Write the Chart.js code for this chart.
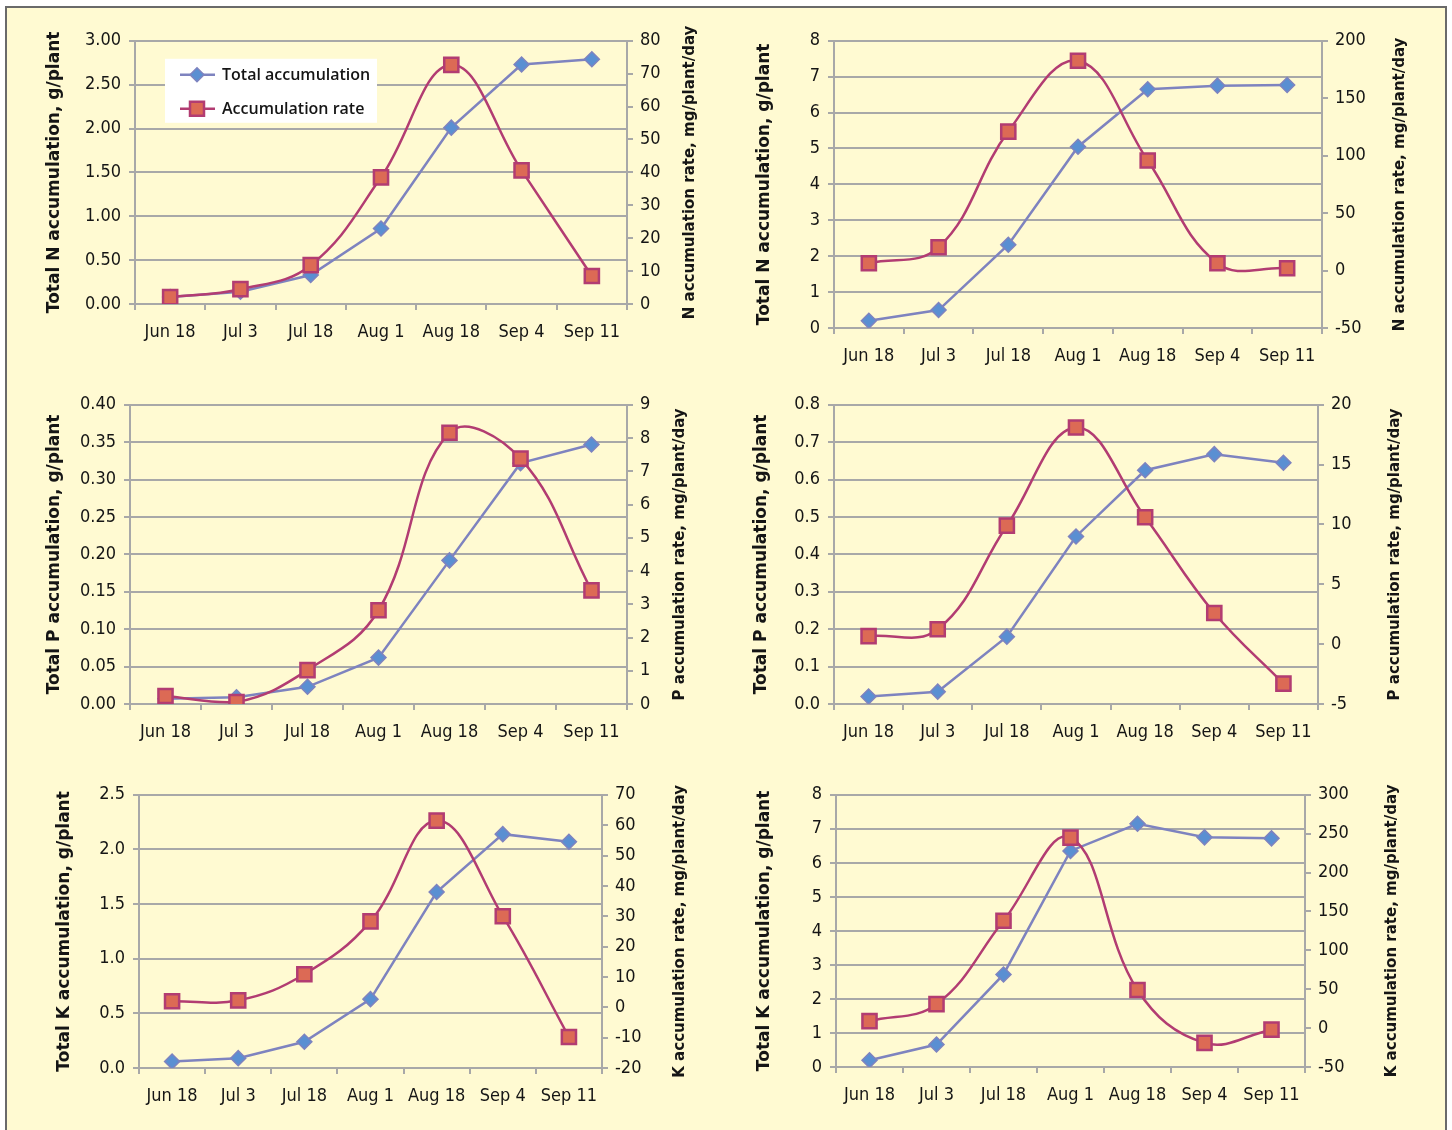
<!DOCTYPE html>
<html>
<head>
<meta charset="utf-8">
<script src="https://cdn.jsdelivr.net/npm/chart.js@4.4.1/dist/chart.umd.min.js"></script>
<style>
  body { margin: 0; background: #fff; width: 1452px; height: 1130px; overflow: hidden; position: relative; }
  .frame { position: absolute; left: 5px; top: 6px; width: 1438px; height: 1140px;
           background: #FFFAD2; border: 2px solid #6a6a6a; }
  .box { position: absolute; }
</style>
</head>
<body>
<div class="frame"></div>
<div class="box" style="left:20px;top:22px;width:695px;height:348px"><canvas id="c1"></canvas></div>
<div class="box" style="left:730px;top:22px;width:710px;height:348px"><canvas id="c2"></canvas></div>
<div class="box" style="left:20px;top:386px;width:695px;height:374px"><canvas id="c3"></canvas></div>
<div class="box" style="left:730px;top:386px;width:710px;height:374px"><canvas id="c4"></canvas></div>
<div class="box" style="left:20px;top:776px;width:695px;height:350px"><canvas id="c5"></canvas></div>
<div class="box" style="left:730px;top:776px;width:710px;height:350px"><canvas id="c6"></canvas></div>
<script>
// sampling dates
const categories = ['Jun 18', 'Jul 3', 'Jul 18', 'Aug 1', 'Aug 18', 'Sep 4', 'Sep 11'];

// nitrogen (g/plant, mg/plant/day)
const nTotalA = [0.08, 0.14, 0.33, 0.86, 2.01, 2.73, 2.79];
const nRateA = [2.1, 4.5, 11.8, 38.5, 72.7, 40.6, 8.5];
const nTotalB = [0.2, 0.5, 2.32, 5.05, 6.65, 6.75, 6.77];
const nRateB = [6.4, 20.3, 121, 182.6, 95.8, 6.4, 2];

// phosphorus
const pTotalA = [0.007, 0.009, 0.023, 0.062, 0.192, 0.322, 0.347];
const pRateA = [0.24, 0.06, 1.02, 2.82, 8.16, 7.38, 3.42];
const pTotalB = [0.02, 0.033, 0.18, 0.448, 0.625, 0.668, 0.645];
const pRateB = [0.67, 1.25, 9.9, 18.1, 10.6, 2.6, -3.3];

// potassium
const kTotalA = [0.06, 0.09, 0.24, 0.63, 1.61, 2.14, 2.07];
const kRateA = [2.0, 2.3, 10.9, 28.3, 61.5, 30, -9.8];
const kTotalB = [0.2, 0.66, 2.72, 6.35, 7.15, 6.75, 6.72];
const kRateB = [9, 30.8, 138, 245, 49, -19, -2];

// axis ranges [min, max, step]
const nLeftA = [0, 3, 0.5], nRightA = [0, 80, 10];
const nLeftB = [0, 8, 1], nRightB = [-50, 200, 50];
const pLeftA = [0, 0.4, 0.05], pRightA = [0, 9, 1];
const pLeftB = [0, 0.8, 0.1], pRightB = [-5, 20, 5];
const kLeftA = [0, 2.5, 0.5], kRightA = [-20, 70, 10];
const kLeftB = [0, 8, 1], kRightB = [-50, 300, 50];

const BLUE_LINE = '#7E83BF';
const BLUE_FILL = '#5A8FD2';
const RED_LINE = '#B23C72';
const RED_FILL = '#DC6A55';
const GRID = '#A8A8A8';
const TEXT = '#151515';
const tickFont = { family: "'Liberation Sans Narrow', 'DejaVu Sans Condensed', 'Arial Narrow', sans-serif", size: 18 };

// both axis titles read bottom-to-top, so they are drawn here
const axisTitles = {
    id: 'axisTitles',
    afterDraw(chart, args, opts) {
        const { ctx, chartArea } = chart;
        const midY = (chartArea.top + chartArea.bottom) / 2;
        const items = [
            [opts.left, chartArea.left - opts.leftGap, 'bold 17px "DejaVu Sans", sans-serif'],
            [opts.right, chartArea.right + opts.rightGap, 'bold 15px "DejaVu Sans", sans-serif'],
        ];
        ctx.save();
        ctx.fillStyle = TEXT;
        ctx.textAlign = 'center';
        ctx.textBaseline = 'middle';
        items.forEach(([text, x, font]) => {
            ctx.save();
            ctx.translate(x, midY);
            ctx.rotate(-Math.PI / 2);
            ctx.font = font;
            ctx.fillText(text, 0, 0);
            ctx.restore();
        });
        ctx.restore();
    },
};

// Excel-style legend sitting inside the plot (first chart only)
const insideLegend = {
    id: 'insideLegend',
    beforeDatasetsDraw(chart, args, opts) {
        if (!opts.show) return;
        const { ctx, chartArea } = chart;
        const x = chartArea.left + 30;
        const y = chartArea.top + 18;
        ctx.save();
        ctx.fillStyle = '#fff';
        ctx.fillRect(x, y, 212, 64);
        chart.data.datasets.forEach((ds, i) => {
            const cy = y + 16 + i * 34;
            const mx = x + 32;
            ctx.strokeStyle = ds.borderColor;
            ctx.lineWidth = ds.borderWidth;
            ctx.beginPath();
            ctx.moveTo(x + 15, cy);
            ctx.lineTo(x + 50, cy);
            ctx.stroke();
            ctx.fillStyle = ds.pointBackgroundColor;
            ctx.strokeStyle = ds.pointBorderColor;
            ctx.lineWidth = ds.pointBorderWidth;
            ctx.beginPath();
            if (ds.pointStyle === 'rectRot') {
                ctx.moveTo(mx - 7, cy);
                ctx.lineTo(mx, cy - 7);
                ctx.lineTo(mx + 7, cy);
                ctx.lineTo(mx, cy + 7);
                ctx.closePath();
            } else {
                ctx.rect(mx - 7, cy - 7, 14, 14);
            }
            ctx.fill();
            ctx.stroke();
            ctx.fillStyle = TEXT;
            ctx.font = '600 16px "Open Sans", sans-serif';
            ctx.textBaseline = 'middle';
            ctx.fillText(ds.label, x + 57, cy + 1);
        });
        ctx.restore();
    },
};

function makeChart(id, c) {
    const fmt = (v) => (c.decimals ? Number(v).toFixed(c.decimals) : String(Math.round(v)));
    new Chart(document.getElementById(id), {
        type: 'line',
        data: {
            labels: categories,
            datasets: [
                {
                    label: 'Total accumulation',
                    data: c.total,
                    yAxisID: 'y',
                    order: 1,
                    borderColor: BLUE_LINE,
                    borderWidth: 2.5,
                    tension: 0,
                    pointStyle: 'rectRot',
                    pointRadius: 7.5,
                    pointBackgroundColor: BLUE_FILL,
                    pointBorderColor: BLUE_LINE,
                    pointBorderWidth: 1.5,
                },
                {
                    label: 'Accumulation rate',
                    data: c.rate,
                    yAxisID: 'y1',
                    order: 0,
                    borderColor: RED_LINE,
                    borderWidth: 2.5,
                    tension: 0.4,
                    pointStyle: 'rect',
                    pointRadius: 10,
                    pointBackgroundColor: RED_FILL,
                    pointBorderColor: RED_LINE,
                    pointBorderWidth: 2.5,
                },
            ],
        },
        options: {
            responsive: true,
            maintainAspectRatio: false,
            animation: false,
            layout: { padding: { top: c.padTop, left: 0, right: 0, bottom: 0 } },
            plugins: {
                legend: { display: false },
                tooltip: { enabled: false },
                axisTitles: { left: c.leftTitle, right: c.rightTitle, leftGap: c.leftGap, rightGap: c.rightGap },
                insideLegend: { show: !!c.legend },
            },
            scales: {
                x: {
                    offset: true,
                    grid: { offset: true, drawOnChartArea: false, color: GRID, lineWidth: 2, tickLength: 6 },
                    border: { display: true, color: GRID, width: 2 },
                    ticks: { color: TEXT, font: tickFont, padding: 12, maxRotation: 0, autoSkip: false },
                    afterFit: (s) => { s.height = c.xHeight; },
                },
                y: {
                    position: 'left',
                    min: c.left[0],
                    max: c.left[1],
                    grid: { color: GRID, lineWidth: 2, tickLength: 6 },
                    border: { display: true, color: GRID, width: 2 },
                    ticks: { stepSize: c.left[2], color: TEXT, font: tickFont, padding: 8, callback: fmt },
                    afterFit: (s) => { s.width = c.leftWidth; },
                },
                y1: {
                    position: 'right',
                    min: c.right[0],
                    max: c.right[1],
                    grid: { drawOnChartArea: false, color: GRID, lineWidth: 2, tickLength: 6 },
                    border: { display: true, color: GRID, width: 2 },
                    ticks: { stepSize: c.right[2], color: TEXT, font: tickFont, padding: 7, callback: (v) => String(v) },
                    afterFit: (s) => { s.width = c.rightWidth; },
                },
            },
        },
        plugins: [axisTitles, insideLegend],
    });
}

makeChart('c1', {
    total: nTotalA, rate: nRateA, left: nLeftA, right: nRightA, decimals: 2, legend: true,
    leftTitle: 'Total N accumulation, g/plant', rightTitle: 'N accumulation rate, mg/plant/day',
    padTop: 18, leftWidth: 115, rightWidth: 88, xHeight: 66, leftGap: 80, rightGap: 63,
});
makeChart('c2', {
    total: nTotalB, rate: nRateB, left: nLeftB, right: nRightB, decimals: 0,
    leftTitle: 'Total N accumulation, g/plant', rightTitle: 'N accumulation rate, mg/plant/day',
    padTop: 18, leftWidth: 104, rightWidth: 118, xHeight: 42, leftGap: 69, rightGap: 78,
});
makeChart('c3', {
    total: pTotalA, rate: pRateA, left: pLeftA, right: pRightA, decimals: 2,
    leftTitle: 'Total P accumulation, g/plant', rightTitle: 'P accumulation rate, mg/plant/day',
    padTop: 18, leftWidth: 110, rightWidth: 88, xHeight: 56, leftGap: 75, rightGap: 53,
});
makeChart('c4', {
    total: pTotalB, rate: pRateB, left: pLeftB, right: pRightB, decimals: 1,
    leftTitle: 'Total P accumulation, g/plant', rightTitle: 'P accumulation rate, mg/plant/day',
    padTop: 18, leftWidth: 104, rightWidth: 122, xHeight: 56, leftGap: 72, rightGap: 77,
});
makeChart('c5', {
    total: kTotalA, rate: kRateA, left: kLeftA, right: kRightA, decimals: 1,
    leftTitle: 'Total K accumulation, g/plant', rightTitle: 'K accumulation rate, mg/plant/day',
    padTop: 18, leftWidth: 119, rightWidth: 113, xHeight: 58, leftGap: 74, rightGap: 78,
});
makeChart('c6', {
    total: kTotalB, rate: kRateB, left: kLeftB, right: kRightB, decimals: 0,
    leftTitle: 'Total K accumulation, g/plant', rightTitle: 'K accumulation rate, mg/plant/day',
    padTop: 18, leftWidth: 106, rightWidth: 135, xHeight: 59, leftGap: 71, rightGap: 87,
});
</script>
</body>
</html>
